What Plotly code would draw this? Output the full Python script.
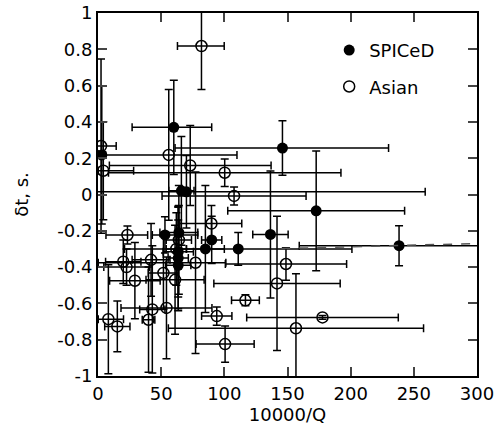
import plotly.graph_objects as go

# SPICeD (filled circles)
sp_x = [60, 146, 172.7, 238.3, 136.5, 111, 53, 64, 90, 85, 63.5, 63.5, 63.5, 66, 70, 3]
sp_y = [0.37, 0.256, -0.09, -0.282, -0.22, -0.30, -0.223, -0.21, -0.25, -0.30, -0.315, -0.35, -0.39, 0.02, 0.015, 0.218]
sp_xm = [33, 85, 70, 79, 14, 90, 10, 15, 8, 15, 12, 8, 10, 10, 189, 3]
sp_xp = [30, 84, 70, 79, 14, 90, 26, 15, 8, 15, 12, 8, 10, 10, 189, 3]
sp_ye = [0.26, 0.15, 0.33, 0.11, 0.35, 0.09, 0.10, 0.15, 0.13, 0.35, 0.25, 0.28, 0.25, 0.30, 0.20, 0.38]

# Asian (open circles)
as_x = [81.9, 2.4, 4.2, 56, 73, 100.3, 107.7, 89.8, 23.3, 64, 62, 20, 22.6, 29.2, 42, 51.8,
        61, 77.2, 43, 54.2, 40, 8.2, 15.3, 94, 100.6, 148.8, 141.7, 116.7, 177.7, 156.7]
as_y = [0.818, 0.267, 0.131, 0.218, 0.16, 0.12, -0.008, -0.16, -0.223, -0.25, -0.30, -0.37, -0.40, -0.475,
        -0.36, -0.432, -0.47, -0.376, -0.633, -0.625, -0.69, -0.687, -0.727, -0.67, -0.824, -0.383,
        -0.49, -0.583, -0.677, -0.737]
as_xm = [19, 3, 4, 52, 64, 92, 57, 25, 17, 10, 8, 14, 18, 20, 15, 12, 23, 77, 10, 36, 5, 8, 10, 12, 23,
         48, 50, 11, 60, 101]
as_xp = [18, 12, 24, 54, 64, 92, 57, 24, 16, 10, 8, 14, 18, 20, 15, 12, 23, 24, 10, 36, 5, 12, 10, 12, 23,
         48, 50, 11, 60, 101]
as_ye = [0.24, 0.48, 0.27, 0.36, 0.22, 0.076, 0.05, 0.10, 0.05, 0.30, 0.20, 0.12, 0.10, 0.21, 0.20, 0.20,
         0.30, 0.50, 0.35, 0.28, 0.29, 0.30, 0.14, 0.05, 0.10, 0.09, 0.37, 0.03, 0.01, 0.30]

# dashed fit line
fit_x = [145, 300]
fit_y = [-0.298, -0.27]

x_ticks = [0, 50, 100, 150, 200, 250, 300]
y_ticks = [-1, -0.8, -0.6, -0.4, -0.2, 0, 0.2, 0.4, 0.6, 0.8, 1]
y_ticklabels = ["-1", "-0.8", "-0.6", "-0.4", "-0.2", "0", "0.2", "0.4", "0.6", "0.8", "1"]

FONT = "DejaVu Sans"

fig = go.Figure()

fig.add_trace(go.Scatter(
    x=sp_x, y=sp_y, mode="markers", name="SPICeD", legendgroup="a",
    marker=dict(symbol="circle", size=11, color="black"),
    error_x=dict(type="data", symmetric=False, array=sp_xp, arrayminus=sp_xm, color="black", thickness=1.5, width=4),
    error_y=dict(type="data", array=sp_ye, color="black", thickness=1.5, width=4),
))
fig.add_trace(go.Scatter(
    x=as_x, y=as_y, mode="markers", name="Asian", legendgroup="b",
    marker=dict(symbol="circle-open", size=11, color="black", line=dict(width=1.5, color="black")),
    error_x=dict(type="data", symmetric=False, array=as_xp, arrayminus=as_xm, color="black", thickness=1.5, width=4),
    error_y=dict(type="data", array=as_ye, color="black", thickness=1.5, width=4),
))
fig.add_trace(go.Scatter(
    x=fit_x, y=fit_y, mode="lines", showlegend=False,
    line=dict(color="#555555", width=1.5, dash="dash"),
))

fig.update_layout(
    width=503, height=425,
    margin=dict(l=98, r=26, t=13, b=49),
    paper_bgcolor="white", plot_bgcolor="white",
    font=dict(family=FONT, size=18, color="black"),
    legend=dict(x=0.61, y=0.948, xanchor="left", yanchor="top", bgcolor="rgba(0,0,0,0)",
                traceorder="grouped", tracegroupgap=10, itemwidth=30,
                font=dict(family=FONT, size=18, color="black")),
    xaxis=dict(range=[0, 300], tickvals=x_ticks, ticks="inside", ticklen=9, tickwidth=1.5,
               showline=True, linewidth=2, linecolor="black", mirror="ticks", showgrid=False,
               zeroline=False, automargin=False, ticklabeloverflow="allow",
               title=dict(text="10000/Q", font=dict(size=18), standoff=5)),
    yaxis=dict(range=[-1, 1], tickvals=y_ticks, ticktext=y_ticklabels, ticks="inside", ticklen=9,
               tickwidth=1.5, showline=True, linewidth=2, linecolor="black", mirror="ticks",
               showgrid=False, zeroline=False, automargin=False, ticklabeloverflow="allow",
               title=dict(text="δt, s.", font=dict(size=18), standoff=24)),
)

fig.write_html("out.html", post_script="document.body.style.margin='0';",
               config={"displayModeBar": False})
